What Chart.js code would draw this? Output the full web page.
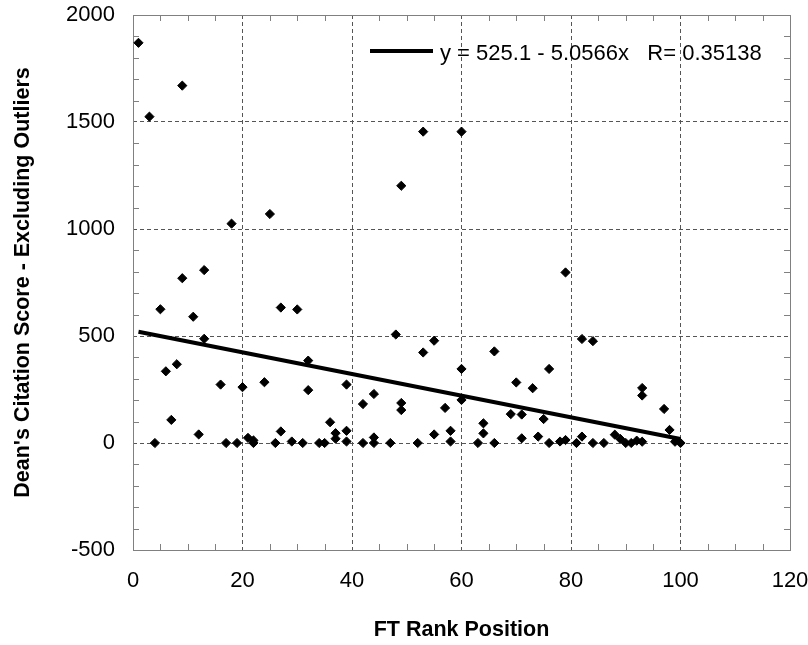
<!DOCTYPE html>
<html>
<head>
<meta charset="utf-8">
<script src="https://cdn.jsdelivr.net/npm/chart.js@4.4.0/dist/chart.umd.min.js"></script>
<style>
  html, body { margin: 0; padding: 0; background: #fff; }
</style>
</head>
<body>
<canvas id="myChart" width="808" height="645"></canvas>
<script>
"use strict";
// FT rank position and dean's citation score
let rankArr = [1, 3, 4, 5, 6, 7, 8, 9, 9, 11, 12, 13, 13, 16, 17, 18, 19, 20, 21, 22, 22,
  24, 25, 26, 27, 27, 29, 30, 31, 32, 32, 34, 35, 36, 37, 37, 39, 39, 39, 42, 42, 44, 44, 44,
  47, 48, 49, 49, 49, 52, 53, 53, 55, 55, 57, 58, 58, 60, 60, 60, 63, 64, 64, 66, 66, 69, 70,
  71, 71, 73, 74, 75, 76, 76, 78, 79, 79, 81, 82, 82, 84, 84, 86, 88, 89, 90, 91, 92, 93, 93,
  93, 97, 98, 99, 100];
let scoreArr = [1870, 1525, 0, 625, 335, 108, 368, 1670, 770, 590, 40, 808, 487, 273, 0, 1025, 0, 261, 24, 12, 0,
  284, 1070, 0, 633, 54, 7, 624, 0, 385, 247, 0, 0, 97, 46, 20, 273, 57, 7, 182, 0, 229, 26, 0,
  0, 507, 1202, 187, 154, 0, 1455, 423, 478, 40, 164, 57, 7, 1455, 346, 201, 0, 92, 45, 428, 0, 135, 283,
  133, 22, 256, 30, 112, 346, 0, 7, 797, 14, 0, 486, 30, 476, 0, 0, 39, 19, 0, 0, 11, 257, 222,
  6, 159, 61, 6, 0];
// fit line end points: y = 525.1 - 5.0566x
let fitX = [1, 100];
let fitY = [520, 19];
let fitLabel = "y = 525.1 - 5.0566x   R= 0.35138";
let xTicks = [0, 20, 40, 60, 80, 100, 120];
let yTicks = [-500, 0, 500, 1000, 1500, 2000];

let points = [];
for (let i = 0; i < rankArr.length; i++) {
  points.push({ x: rankArr[i], y: scoreArr[i] });
}
let fitPoints = [];
for (let i = 0; i < fitX.length; i++) {
  fitPoints.push({ x: fitX[i], y: fitY[i] });
}

let fontName = "'Liberation Sans', Arial, sans-serif";

//frame, minor ticks and the legend box
let extras = {
  id: "extras",
  beforeDatasetsDraw(chart) {
    let ctx = chart.ctx;
    let a = chart.chartArea;
    let xs = chart.scales.x;
    let ys = chart.scales.y;
    ctx.save();
    ctx.strokeStyle = "#808080";
    ctx.lineWidth = 1;
    ctx.beginPath();
    for (let v = 5; v < 120; v += 5) {
      if (v % 20 == 0) continue;
      let px = Math.round(xs.getPixelForValue(v)) + 0.5;
      ctx.moveTo(px, a.bottom);
      ctx.lineTo(px, a.bottom - 6);
      ctx.moveTo(px, a.top);
      ctx.lineTo(px, a.top + 6);
    }
    for (let v = -400; v < 2000; v += 100) {
      if (v % 500 == 0) continue;
      let py = Math.round(ys.getPixelForValue(v)) + 0.5;
      ctx.moveTo(a.left, py);
      ctx.lineTo(a.left + 6, py);
      ctx.moveTo(a.right, py);
      ctx.lineTo(a.right - 6, py);
    }
    ctx.stroke();
    ctx.strokeRect(Math.round(a.left) + 0.5, Math.round(a.top) + 0.5,
      Math.round(a.right - a.left), Math.round(a.bottom - a.top));
    ctx.restore();
  },
  afterDraw(chart) {
    let ctx = chart.ctx;
    let a = chart.chartArea;
    let y = a.top + 36;
    ctx.save();
    ctx.strokeStyle = "#000";
    ctx.lineWidth = 4;
    ctx.beginPath();
    ctx.moveTo(a.left + 237, y);
    ctx.lineTo(a.left + 300, y);
    ctx.stroke();
    ctx.fillStyle = "#000";
    ctx.font = "22px " + fontName;
    ctx.textBaseline = "middle";
    ctx.fillText(fitLabel, a.left + 307, y + 2.5);
    ctx.restore();
  },
};

let ctx = document.getElementById("myChart").getContext("2d");
let myChart = new Chart(ctx, {
  type: "scatter",
  data: {
    datasets: [
      {
        label: "scores",
        data: points,
        pointStyle: "rectRot",
        pointRadius: 4.6,
        backgroundColor: "#000",
        borderColor: "#000",
        borderWidth: 1,
        order: 2,
      },
      {
        type: "line",
        label: fitLabel,
        data: fitPoints,
        borderColor: "#000",
        borderWidth: 4,
        pointRadius: 0,
        fill: false,
        order: 1,
      },
    ],
  },
  options: {
    responsive: false,
    animation: false,
    devicePixelRatio: 1,
    layout: { padding: { top: 15, right: 18, left: 0, bottom: 0 } },
    plugins: { legend: { display: false }, tooltip: { enabled: false } },
    scales: {
      x: {
        type: "linear",
        min: 0,
        max: 120,
        afterBuildTicks: (s) => { s.ticks = xTicks.map((v) => ({ value: v })); },
        afterFit: (s) => {
          s.height = 95;
          s.paddingLeft = 0;
          s.paddingRight = 0;
        },
        ticks: { color: "#000", padding: 18, font: { family: fontName, size: 22 } },
        grid: { color: "#555", lineWidth: 1, drawTicks: false },
        border: { display: false, dash: [4, 3] },
        title: {
          display: true,
          text: "FT Rank Position",
          color: "#000",
          font: { family: fontName, size: 21.5, weight: "bold" },
          padding: { top: 0, bottom: 2 },
        },
      },
      y: {
        type: "linear",
        min: -500,
        max: 2000,
        afterBuildTicks: (s) => { s.ticks = yTicks.map((v) => ({ value: v })); },
        afterFit: (s) => {
          s.width = 133;
          s.paddingTop = 0;
          s.paddingBottom = 0;
        },
        ticks: {
          color: "#000",
          padding: 18,
          font: { family: fontName, size: 22 },
          callback: (v) => String(v),
        },
        grid: { color: "#555", lineWidth: 1, drawTicks: false },
        border: { display: false, dash: [4, 3] },
        title: {
          display: true,
          text: "Dean's Citation Score - Excluding Outliers",
          color: "#000",
          font: { family: fontName, size: 21.5, weight: "bold" },
          padding: { top: 10, bottom: 0 },
        },
      },
    },
  },
  plugins: [extras],
});
</script>
</body>
</html>
